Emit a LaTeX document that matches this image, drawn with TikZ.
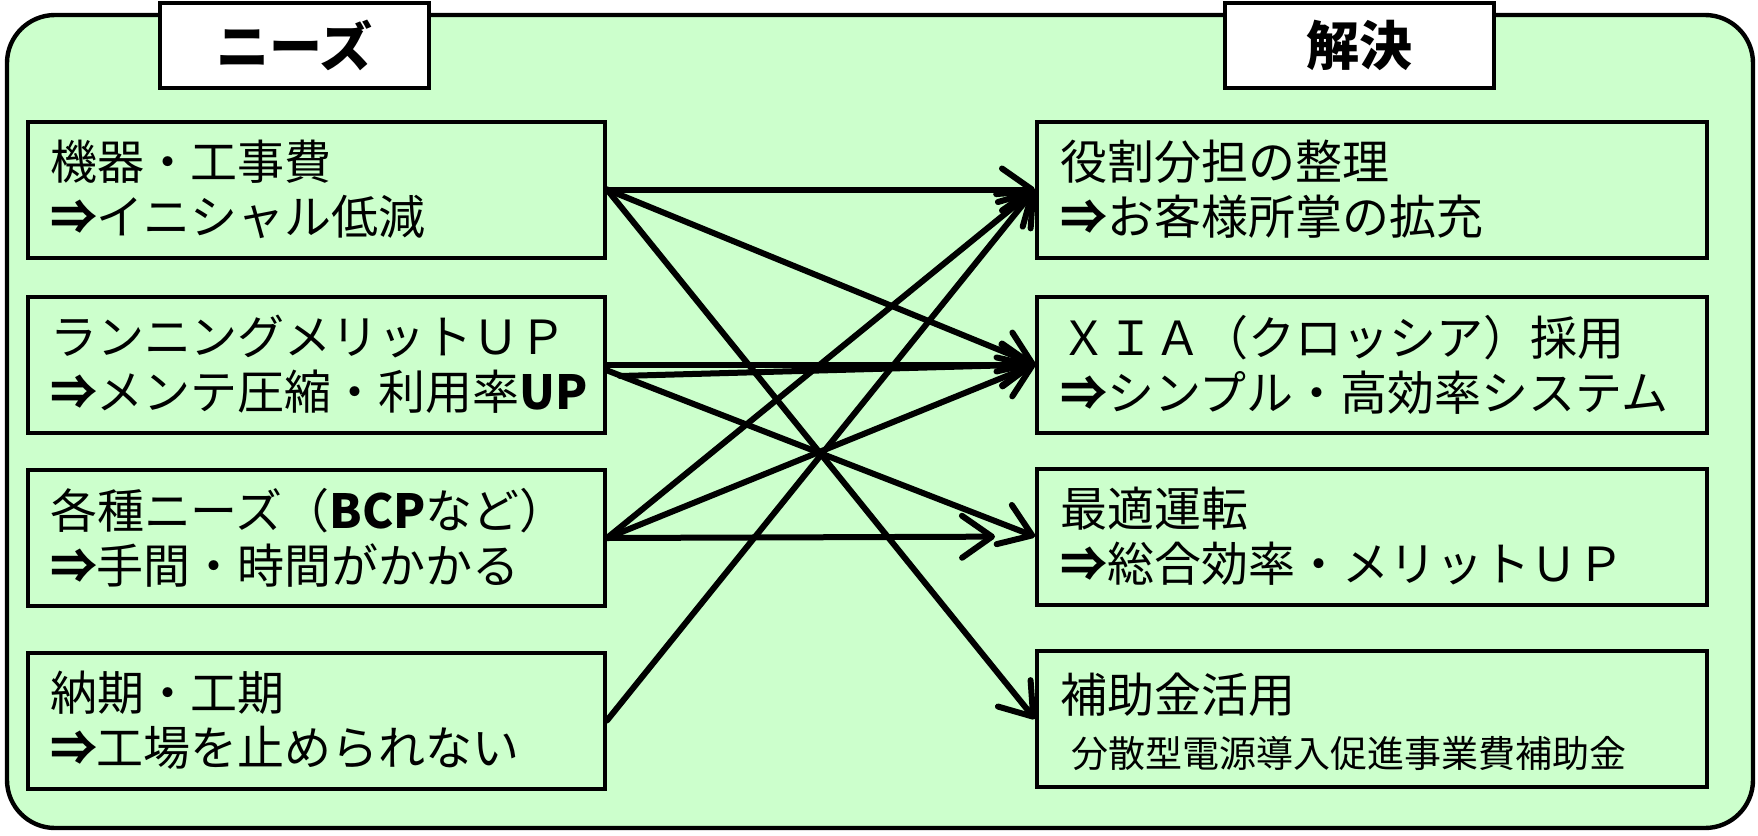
\documentclass[tikz,border=0pt]{standalone}
\usepackage{fontspec}
\setmainfont{Noto Sans CJK JP}
\usetikzlibrary{arrows.meta,calc}
\definecolor{bggreen}{HTML}{CCFFCC}
\newcommand{\darr}{\textbf{⇒}}
\tikzset{
  boxL/.style={draw=black, line width=2pt, fill=bggreen, minimum width=288.5pt, minimum height=68pt,
    text width=266.5pt, inner xsep=11pt, inner ysep=0pt, align=left,
    font=\fontsize{23.5}{27.5}\selectfont},
  boxR/.style={boxL, minimum width=335pt, text width=312pt, inner xsep=11.5pt},
  titlebox/.style={draw=black, line width=2pt, fill=white, minimum width=134.5pt, minimum height=42.5pt,
    inner sep=0pt, font=\fontsize{26.5}{30}\selectfont\bfseries},
  arr/.style={line width=3pt, line cap=round, line join=round,
    -{Straight Barb[length=15pt,width=21pt,round]}},
  plain/.style={inner sep=0pt, anchor=west}
}
\begin{document}
\begin{tikzpicture}[x=0.5pt,y=-0.5pt]
\useasboundingbox (0,0) rectangle (1758,836);
\fill[white] (0,0) rectangle (1758,836);
% outer frame
\draw[line width=2.2pt, fill=bggreen, rounded corners=24pt] (7,15) rectangle (1753,828);
% titles
\node[titlebox] (tneeds) at (294.5,45.5) {ニーズ};
\node[titlebox] (tsol) at (1359.5,45.5) {解決};
% left boxes
\node[boxL] (l1) at (316.5,189.5) {機器・工事費\\\darr イニシャル低減};
\node[boxL] (l2) at (316.5,364.5) {ランニングメリットＵＰ\\\darr メンテ圧縮・利用率\textbf{UP}};
\node[boxL] (l3) at (316.5,538) {各種ニーズ（\textbf{BCP}など）\\\darr 手間・時間がかかる};
\node[boxL] (l4) at (316.5,720.5) {納期・工期\\\darr 工場を止められない};
% right boxes
\node[boxR] (r1) at (1372,189.5) {役割分担の整理\\\darr お客様所掌の拡充};
\node[boxR] (r2) at (1372,364.5) {ＸＩＡ（クロッシア）採用\\\darr シンプル・高効率システム};
\node[boxR] (r3) at (1372,536.5) {最適運転\\\darr 総合効率・メリットＵＰ};
\node[boxR] (r4) at (1372,719) {};
\node[plain, font=\fontsize{23.5}{27.5}\selectfont] (r4a) at (1060,695) {補助金活用};
\node[plain, font=\fontsize{18.5}{22}\selectfont] (r4b) at (1071,753) {分散型電源導入促進事業費補助金};
% connectors
\coordinate (l2b) at (620,376);
\coordinate (l2c) at (606,370);
\draw[arr] (l1.east) -- (r1.west);
\draw[arr] (l1.east) -- (r2.west);
\draw[arr] (l1.east) -- (r4.west);
\draw[arr] (l2.east) -- (r2.west);
\draw[arr] (l2b) -- (r2.west);
\draw[arr] (l2c) -- (r3.west);
\draw[arr] (l3.east) -- (r1.west);
\draw[arr] (l3.east) -- (r2.west);
\draw[arr, shorten >=20pt] (l3.east) -- (r3.west);
\draw[arr] (l4.east) -- (r1.west);
\end{tikzpicture}
\end{document}
